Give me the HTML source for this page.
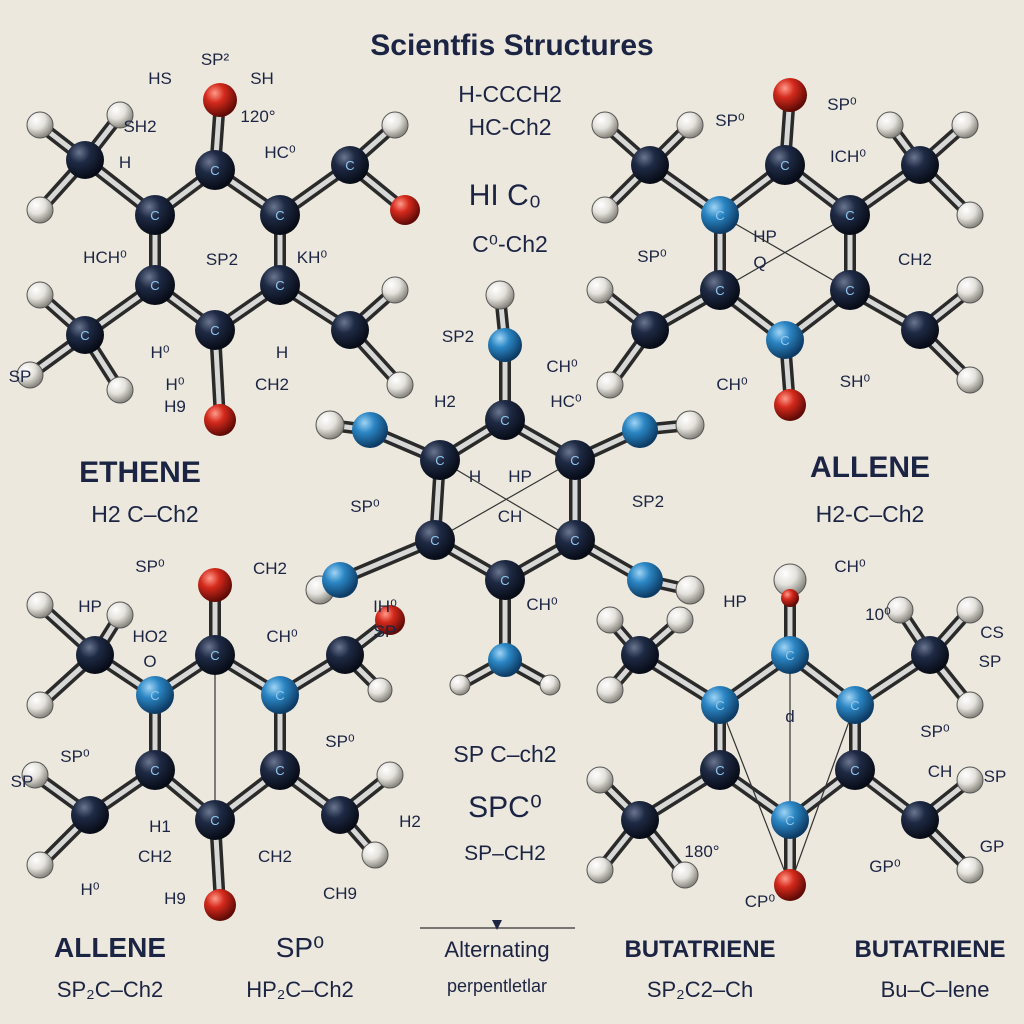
<!DOCTYPE html>
<html><head><meta charset="utf-8"><style>
html,body{margin:0;padding:0;background:#ece8dd}
svg{display:block}
text{font-family:"Liberation Sans",sans-serif;fill:#1c2444;text-anchor:middle}
.s{font-size:17px}
.big{font-size:30px;font-weight:bold}
.mid{font-size:23px}
.c text{fill:#8fc6ee;font-size:13px}
</style></head><body>
<svg width="1024" height="1024" viewBox="0 0 1024 1024" xmlns="http://www.w3.org/2000/svg">
<defs>
<radialGradient id="gn" cx="35%" cy="30%" r="70%"><stop offset="0" stop-color="#6a7690"/><stop offset="0.4" stop-color="#1e2a44"/><stop offset="1" stop-color="#070b16"/></radialGradient>
<radialGradient id="gb" cx="35%" cy="30%" r="70%"><stop offset="0" stop-color="#9fd4f5"/><stop offset="0.4" stop-color="#2b86c4"/><stop offset="1" stop-color="#0c3a63"/></radialGradient>
<radialGradient id="gr" cx="35%" cy="30%" r="70%"><stop offset="0" stop-color="#ff9a8a"/><stop offset="0.4" stop-color="#d42a1c"/><stop offset="1" stop-color="#5e0a06"/></radialGradient>
<radialGradient id="gw" cx="35%" cy="30%" r="70%"><stop offset="0" stop-color="#ffffff"/><stop offset="0.5" stop-color="#e4e2dc"/><stop offset="1" stop-color="#8a8780"/></radialGradient>
<g id="bonds" fill="none" stroke-linecap="round">
<path d="M215,170L155,215M215,170L280,215M155,215L155,285M280,215L280,285M155,285L215,330M280,285L215,330M155,215L85,160M280,215L350,165M155,285L85,335M280,285L350,330M215,170L220,100M215,330L220,420M85,160L40,125M85,160L40,210M85,160L120,115M350,165L395,125M350,165L405,210M85,335L40,295M85,335L30,375M85,335L120,390M350,330L395,290M350,330L400,385"/>
<path d="M785,165L720,215M785,165L850,215M720,215L720,290M850,215L850,290M720,290L785,340M850,290L785,340M720,215L650,165M850,215L920,165M720,290L650,330M850,290L920,330M785,165L790,95M785,340L790,405M650,165L605,125M650,165L605,210M650,165L690,125M920,165L890,125M920,165L965,125M920,165L970,215M650,330L600,290M650,330L610,385M920,330L970,290M920,330L970,380"/>
<path d="M505,420L440,460M505,420L575,460M440,460L435,540M575,460L575,540M435,540L505,580M575,540L505,580M505,420L505,345M505,580L505,660M440,460L370,430M575,460L640,430M435,540L340,580M575,540L645,580M370,430L330,425M640,430L690,425M340,580L320,590M645,580L690,590M505,345L500,295M505,660L460,685M505,660L550,685"/>
<path d="M215,585L215,655M215,655L155,695M215,655L280,695M155,695L155,770M280,695L280,770M155,770L215,820M280,770L215,820M155,695L95,655M280,695L345,655M155,770L90,815M280,770L340,815M215,820L220,905M95,655L40,605M95,655L40,705M95,655L120,615M345,655L390,620M345,655L380,690M90,815L35,775M90,815L40,865M340,815L390,775M340,815L375,855"/>
<path d="M790,585L790,655M790,655L720,705M790,655L855,705M720,705L720,770M855,705L855,770M720,770L790,820M855,770L790,820M720,705L640,655M855,705L930,655M720,770L640,820M855,770L920,820M790,820L790,885M640,655L610,620M640,655L610,690M640,655L680,620M930,655L900,610M930,655L970,610M930,655L970,705M640,820L600,780M640,820L600,870M640,820L685,875M920,820L970,780M920,820L970,870"/>
</g>
</defs>
<rect width="1024" height="1024" fill="#ece8dd"/>
<use href="#bonds" stroke="#2a2a2a" stroke-width="12"/>
<use href="#bonds" stroke="#d8d8d6" stroke-width="5"/>
<g stroke="#333" stroke-width="1.2">
<line x1="720" y1="215" x2="850" y2="290"/><line x1="850" y1="215" x2="720" y2="290"/>
<line x1="440" y1="460" x2="575" y2="540"/><line x1="575" y1="460" x2="435" y2="540"/>
<line x1="215" y1="655" x2="215" y2="820"/><line x1="790" y1="655" x2="790" y2="820"/>
<line x1="720" y1="705" x2="790" y2="885"/><line x1="855" y1="705" x2="790" y2="885"/>
<line x1="420" y1="928" x2="575" y2="928"/>
</g>
<polygon points="492,920 502,920 497,930" fill="#1c2444"/>
<g fill="url(#gw)" stroke="#555" stroke-width="1">
<circle cx="40" cy="125" r="13"/><circle cx="40" cy="210" r="13"/><circle cx="120" cy="115" r="13"/><circle cx="395" cy="125" r="13"/><circle cx="40" cy="295" r="13"/><circle cx="30" cy="375" r="13"/><circle cx="120" cy="390" r="13"/><circle cx="395" cy="290" r="13"/><circle cx="400" cy="385" r="13"/>
<circle cx="605" cy="125" r="13"/><circle cx="605" cy="210" r="13"/><circle cx="690" cy="125" r="13"/><circle cx="890" cy="125" r="13"/><circle cx="965" cy="125" r="13"/><circle cx="970" cy="215" r="13"/><circle cx="600" cy="290" r="13"/><circle cx="610" cy="385" r="13"/><circle cx="970" cy="290" r="13"/><circle cx="970" cy="380" r="13"/>
<circle cx="330" cy="425" r="14"/><circle cx="690" cy="425" r="14"/><circle cx="320" cy="590" r="14"/><circle cx="690" cy="590" r="14"/><circle cx="500" cy="295" r="14"/><circle cx="460" cy="685" r="10"/><circle cx="550" cy="685" r="10"/>
<circle cx="40" cy="605" r="13"/><circle cx="40" cy="705" r="13"/><circle cx="120" cy="615" r="13"/><circle cx="380" cy="690" r="12"/><circle cx="35" cy="775" r="13"/><circle cx="40" cy="865" r="13"/><circle cx="390" cy="775" r="13"/><circle cx="375" cy="855" r="13"/>
<circle cx="790" cy="580" r="16"/><circle cx="610" cy="620" r="13"/><circle cx="610" cy="690" r="13"/><circle cx="680" cy="620" r="13"/><circle cx="900" cy="610" r="13"/><circle cx="970" cy="610" r="13"/><circle cx="970" cy="705" r="13"/><circle cx="600" cy="780" r="13"/><circle cx="600" cy="870" r="13"/><circle cx="685" cy="875" r="13"/><circle cx="970" cy="780" r="13"/><circle cx="970" cy="870" r="13"/>
</g>
<g fill="url(#gr)">
<circle cx="220" cy="100" r="17"/><circle cx="220" cy="420" r="16"/><circle cx="405" cy="210" r="15"/>
<circle cx="790" cy="95" r="17"/><circle cx="790" cy="405" r="16"/>
<circle cx="215" cy="585" r="17"/><circle cx="390" cy="620" r="15"/><circle cx="220" cy="905" r="16"/>
<circle cx="790" cy="885" r="16"/><circle cx="790" cy="598" r="9"/>
</g>
<g fill="url(#gb)">
<circle cx="720" cy="215" r="19"/><circle cx="785" cy="340" r="19"/>
<circle cx="505" cy="345" r="17"/><circle cx="505" cy="660" r="17"/><circle cx="370" cy="430" r="18"/><circle cx="640" cy="430" r="18"/><circle cx="340" cy="580" r="18"/><circle cx="645" cy="580" r="18"/>
<circle cx="155" cy="695" r="19"/><circle cx="280" cy="695" r="19"/>
<circle cx="790" cy="655" r="19"/><circle cx="720" cy="705" r="19"/><circle cx="855" cy="705" r="19"/><circle cx="790" cy="820" r="19"/>
</g>
<g fill="url(#gn)">
<circle cx="215" cy="170" r="20"/><circle cx="155" cy="215" r="20"/><circle cx="280" cy="215" r="20"/><circle cx="155" cy="285" r="20"/><circle cx="280" cy="285" r="20"/><circle cx="215" cy="330" r="20"/><circle cx="85" cy="160" r="19"/><circle cx="350" cy="165" r="19"/><circle cx="85" cy="335" r="19"/><circle cx="350" cy="330" r="19"/>
<circle cx="785" cy="165" r="20"/><circle cx="850" cy="215" r="20"/><circle cx="720" cy="290" r="20"/><circle cx="850" cy="290" r="20"/><circle cx="650" cy="165" r="19"/><circle cx="920" cy="165" r="19"/><circle cx="650" cy="330" r="19"/><circle cx="920" cy="330" r="19"/>
<circle cx="505" cy="420" r="20"/><circle cx="440" cy="460" r="20"/><circle cx="575" cy="460" r="20"/><circle cx="435" cy="540" r="20"/><circle cx="575" cy="540" r="20"/><circle cx="505" cy="580" r="20"/>
<circle cx="215" cy="655" r="20"/><circle cx="155" cy="770" r="20"/><circle cx="280" cy="770" r="20"/><circle cx="215" cy="820" r="20"/><circle cx="95" cy="655" r="19"/><circle cx="345" cy="655" r="19"/><circle cx="90" cy="815" r="19"/><circle cx="340" cy="815" r="19"/>
<circle cx="720" cy="770" r="20"/><circle cx="855" cy="770" r="20"/><circle cx="640" cy="655" r="19"/><circle cx="930" cy="655" r="19"/><circle cx="640" cy="820" r="19"/><circle cx="920" cy="820" r="19"/>
</g>
<g class="c">
<text x="215" y="175">C</text><text x="155" y="220">C</text><text x="280" y="220">C</text><text x="155" y="290">C</text><text x="280" y="290">C</text><text x="215" y="335">C</text><text x="85" y="340">C</text><text x="350" y="170">C</text>
<text x="785" y="170">C</text><text x="720" y="220">C</text><text x="850" y="220">C</text><text x="720" y="295">C</text><text x="850" y="295">C</text><text x="785" y="345">C</text>
<text x="505" y="425">C</text><text x="440" y="465">C</text><text x="575" y="465">C</text><text x="435" y="545">C</text><text x="575" y="545">C</text><text x="505" y="585">C</text>
<text x="215" y="660">C</text><text x="155" y="700">C</text><text x="280" y="700">C</text><text x="155" y="775">C</text><text x="280" y="775">C</text><text x="215" y="825">C</text>
<text x="790" y="660">C</text><text x="720" y="710">C</text><text x="855" y="710">C</text><text x="720" y="775">C</text><text x="855" y="775">C</text><text x="790" y="825">C</text>
</g>
<text x="512" y="55" style="font-size:30px;font-weight:bold">Scientfis Structures</text>
<text x="510" y="102" class="mid">H-CCCH2</text>
<text x="510" y="135" class="mid">HC-Ch2</text>
<text x="505" y="205" class="big" style="font-weight:normal">HI C₀</text>
<text x="510" y="252" class="mid">C⁰-Ch2</text>
<g>
<text x="215" y="65" class="s">SP²</text><text x="160" y="84" class="s">HS</text><text x="262" y="84" class="s">SH</text><text x="258" y="122" class="s">120°</text><text x="140" y="132" class="s">SH2</text><text x="125" y="168" class="s">H</text><text x="280" y="158" class="s">HC⁰</text><text x="105" y="263" class="s">HCH⁰</text><text x="222" y="265" class="s">SP2</text><text x="312" y="263" class="s">KH⁰</text><text x="160" y="358" class="s">H⁰</text><text x="282" y="358" class="s">H</text><text x="175" y="390" class="s">H⁰</text><text x="272" y="390" class="s">CH2</text><text x="175" y="412" class="s">H9</text><text x="20" y="382" class="s">SP</text>
<text x="730" y="126" class="s">SP⁰</text><text x="842" y="110" class="s">SP⁰</text><text x="848" y="162" class="s">ICH⁰</text><text x="652" y="262" class="s">SP⁰</text><text x="765" y="242" class="s">HP</text><text x="915" y="265" class="s">CH2</text><text x="732" y="390" class="s">CH⁰</text><text x="855" y="387" class="s">SH⁰</text><text x="760" y="268" class="s">Q</text>
<text x="458" y="342" class="s">SP2</text><text x="562" y="372" class="s">CH⁰</text><text x="445" y="407" class="s">H2</text><text x="566" y="407" class="s">HC⁰</text><text x="365" y="512" class="s">SP⁰</text><text x="648" y="507" class="s">SP2</text><text x="475" y="482" class="s">H</text><text x="520" y="482" class="s">HP</text><text x="510" y="522" class="s">CH</text><text x="385" y="612" class="s">IH⁰</text><text x="385" y="637" class="s">SP</text><text x="542" y="610" class="s">CH⁰</text>
<text x="150" y="572" class="s">SP⁰</text><text x="270" y="574" class="s">CH2</text><text x="90" y="612" class="s">HP</text><text x="150" y="642" class="s">HO2</text><text x="150" y="667" class="s">O</text><text x="282" y="642" class="s">CH⁰</text><text x="340" y="747" class="s">SP⁰</text><text x="75" y="762" class="s">SP⁰</text><text x="22" y="787" class="s">SP</text><text x="160" y="832" class="s">H1</text><text x="410" y="827" class="s">H2</text><text x="155" y="862" class="s">CH2</text><text x="275" y="862" class="s">CH2</text><text x="90" y="895" class="s">H⁰</text><text x="175" y="904" class="s">H9</text><text x="340" y="899" class="s">CH9</text>
<text x="735" y="607" class="s">HP</text><text x="850" y="572" class="s">CH⁰</text><text x="878" y="620" class="s">10⁰</text><text x="990" y="667" class="s">SP</text><text x="992" y="638" class="s">CS</text><text x="935" y="737" class="s">SP⁰</text><text x="940" y="777" class="s">CH</text><text x="995" y="782" class="s">SP</text><text x="992" y="852" class="s">GP</text><text x="702" y="857" class="s">180°</text><text x="885" y="872" class="s">GP⁰</text><text x="760" y="907" class="s">CP⁰</text><text x="790" y="722" class="s">d</text>
</g>
<text x="140" y="482" class="big">ETHENE</text>
<text x="145" y="522" class="mid">H2 C–Ch2</text>
<text x="870" y="477" class="big">ALLENE</text>
<text x="870" y="522" class="mid">H2-C–Ch2</text>
<text x="505" y="762" class="mid">SP C–ch2</text>
<text x="505" y="817" class="big" style="font-weight:normal">SPC⁰</text>
<text x="505" y="860" style="font-size:21px">SP–CH2</text>
<text x="110" y="957" style="font-size:28px;font-weight:bold">ALLENE</text>
<text x="110" y="997" style="font-size:22px">SP₂C–Ch2</text>
<text x="300" y="957" style="font-size:28px">SP⁰</text>
<text x="300" y="997" style="font-size:22px">HP₂C–Ch2</text>
<text x="497" y="957" style="font-size:22px">Alternating</text>
<text x="497" y="992" style="font-size:18px">perpentletlar</text>
<text x="700" y="957" style="font-size:24px;font-weight:bold">BUTATRIENE</text>
<text x="700" y="997" style="font-size:22px">SP₂C2–Ch</text>
<text x="930" y="957" style="font-size:24px;font-weight:bold">BUTATRIENE</text>
<text x="935" y="997" style="font-size:22px">Bu–C–lene</text>
</svg>
</body></html>
